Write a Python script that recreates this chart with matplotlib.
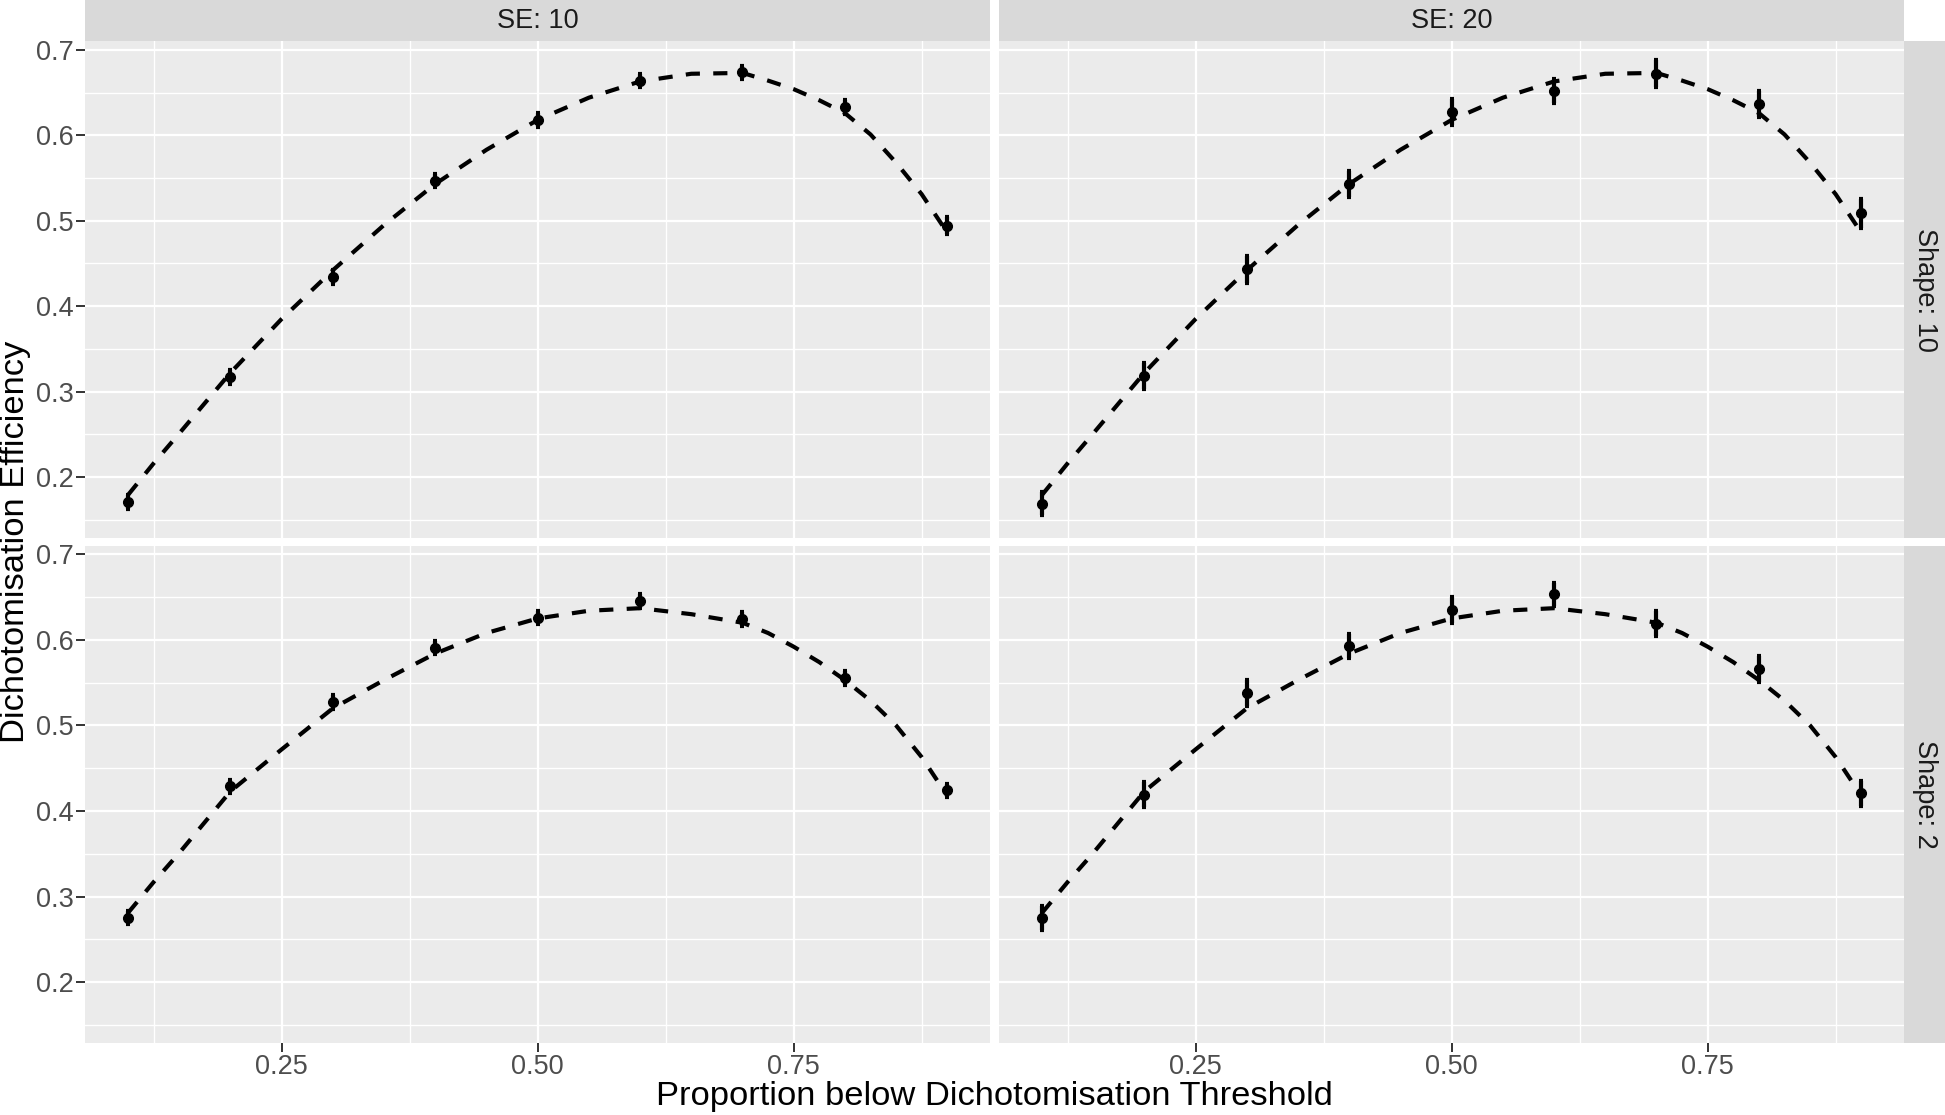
import numpy as np
import matplotlib
matplotlib.use("Agg")
import matplotlib.pyplot as plt

plt.rcParams['font.family'] = ['Liberation Sans', 'DejaVu Sans']

# simulated points
prop = [0.1, 0.2, 0.3, 0.4, 0.5, 0.6, 0.7, 0.8, 0.9]
eff_se10_shape10 = [0.171, 0.317, 0.434, 0.547, 0.618, 0.664, 0.6735, 0.633, 0.494]
eff_se20_shape10 = [0.169, 0.318, 0.443, 0.543, 0.627, 0.652, 0.672, 0.6365, 0.509]
eff_se10_shape2 = [0.2755, 0.4287, 0.527, 0.591, 0.626, 0.6457, 0.6246, 0.5555, 0.424]
eff_se20_shape2 = [0.2752, 0.4192, 0.538, 0.5923, 0.635, 0.653, 0.619, 0.566, 0.4205]
err_se10_shape10 = [0.008, 0.008, 0.008, 0.008, 0.008, 0.008, 0.008, 0.008, 0.010]
err_se20_shape10 = [0.014, 0.015, 0.016, 0.015, 0.015, 0.014, 0.016, 0.015, 0.017]
err_se10_shape2 = [0.008, 0.008, 0.008, 0.008, 0.008, 0.008, 0.008, 0.008, 0.008]
err_se20_shape2 = [0.014, 0.015, 0.015, 0.014, 0.015, 0.014, 0.015, 0.015, 0.015]

# theoretical curves
curve_x_shape10 = [0.1, 0.125, 0.15, 0.2, 0.25, 0.3, 0.35, 0.4, 0.45, 0.5, 0.55, 0.6,
                   0.65, 0.7, 0.725, 0.75, 0.775, 0.8, 0.825, 0.85, 0.875, 0.9]
curve_y_shape10 = [0.179, 0.216, 0.251, 0.322, 0.385, 0.442, 0.495, 0.543, 0.583, 0.618, 0.644, 0.663,
                   0.672, 0.673, 0.664, 0.654, 0.641, 0.626, 0.601, 0.568, 0.531, 0.486]
curve_x_shape2 = [0.1, 0.125, 0.15, 0.2, 0.25, 0.3, 0.35, 0.4, 0.45, 0.5, 0.55, 0.6,
                  0.65, 0.7, 0.725, 0.75, 0.775, 0.8, 0.825, 0.85, 0.875, 0.9]
curve_y_shape2 = [0.281, 0.317, 0.351, 0.423, 0.472, 0.520, 0.553, 0.584, 0.608, 0.625, 0.634, 0.637,
                  0.630, 0.620, 0.608, 0.592, 0.574, 0.553, 0.529, 0.500, 0.463, 0.418]

col_labels = ['SE: 10', 'SE: 20']
row_labels = ['Shape: 10', 'Shape: 2']
xlab = 'Proportion below Dichotomisation Threshold'
ylab = 'Dichotomisation Efficiency'

W, H = 1945, 1115
fig = plt.figure(figsize=(W / 100, H / 100), dpi=100)

cols = [(85, 990.3), (999, 1904.3)]
rows = [(41.3, 537.7), (545.7, 1043)]

def fbox(x0, x1, y0, y1):
    return [x0 / W, 1 - y1 / H, (x1 - x0) / W, (y1 - y0) / H]

panels = {
    (0, 0): (eff_se10_shape10, err_se10_shape10, curve_x_shape10, curve_y_shape10),
    (0, 1): (eff_se20_shape10, err_se20_shape10, curve_x_shape10, curve_y_shape10),
    (1, 0): (eff_se10_shape2, err_se10_shape2, curve_x_shape2, curve_y_shape2),
    (1, 1): (eff_se20_shape2, err_se20_shape2, curve_x_shape2, curve_y_shape2),
}

for (r, c), (yv, ev, cx, cy) in panels.items():
    ax = fig.add_axes(fbox(cols[c][0], cols[c][1], rows[r][0], rows[r][1]))
    ax.set_facecolor('#EBEBEB')
    for s in ax.spines.values():
        s.set_visible(False)
    ax.set_xlim(0.058, 0.942)
    ax.set_ylim(0.129, 0.710)
    ax.set_xticks([0.25, 0.5, 0.75])
    ax.set_xticks([0.125, 0.375, 0.625, 0.875], minor=True)
    ax.set_yticks([0.2, 0.3, 0.4, 0.5, 0.6, 0.7])
    ax.set_yticks([0.15, 0.25, 0.35, 0.45, 0.55, 0.65], minor=True)
    ax.grid(which='major', color='white', lw=1.6)
    ax.grid(which='minor', color='white', lw=1.0)
    ax.set_axisbelow(True)
    ax.tick_params(which='minor', length=0)
    ax.tick_params(which='major', length=6.5, width=1.4, color='#333333',
                   labelsize=19.5, labelcolor='#4D4D4D', pad=1.5)
    ax.set_xticklabels(['0.25', '0.50', '0.75'])
    ax.set_yticklabels(['0.2', '0.3', '0.4', '0.5', '0.6', '0.7'])
    if r == 0:
        ax.tick_params(axis='x', which='major', length=0, labelbottom=False)
    if c == 1:
        ax.tick_params(axis='y', which='major', length=0, labelleft=False)

    ax.plot(cx, cy, color='black', lw=3.0, ls=(0, (3.4, 3.2)),
            dash_capstyle='butt', zorder=3)
    ax.errorbar(prop, yv, yerr=ev, fmt='o', color='black', ms=7,
                elinewidth=3.0, capsize=1.2, capthick=3.0, zorder=4)

# strips
for c, lab in enumerate(col_labels):
    sax = fig.add_axes(fbox(cols[c][0], cols[c][1], 0, rows[0][0]))
    sax.set_facecolor('#D9D9D9')
    sax.set_xticks([]); sax.set_yticks([])
    for s in sax.spines.values():
        s.set_visible(False)
    sax.text(0.5, 0.5, lab, ha='center', va='center', fontsize=19.5,
             color='#1A1A1A', transform=sax.transAxes)

for r, lab in enumerate(row_labels):
    sax = fig.add_axes(fbox(1904.3, W, rows[r][0], rows[r][1]))
    sax.set_facecolor('#D9D9D9')
    sax.set_xticks([]); sax.set_yticks([])
    for s in sax.spines.values():
        s.set_visible(False)
    sax.text(0.5, 0.5, lab, ha='center', va='center', fontsize=19.5,
             color='#1A1A1A', rotation=-90, transform=sax.transAxes)

fig.text(994.5 / W, 1 - 1096 / H, xlab, ha='center', va='center', fontsize=24.8)
fig.text(16 / W, 1 - 542 / H, ylab, ha='center', va='center', fontsize=24.8, rotation=90)

fig.savefig('out.png', dpi=100)
